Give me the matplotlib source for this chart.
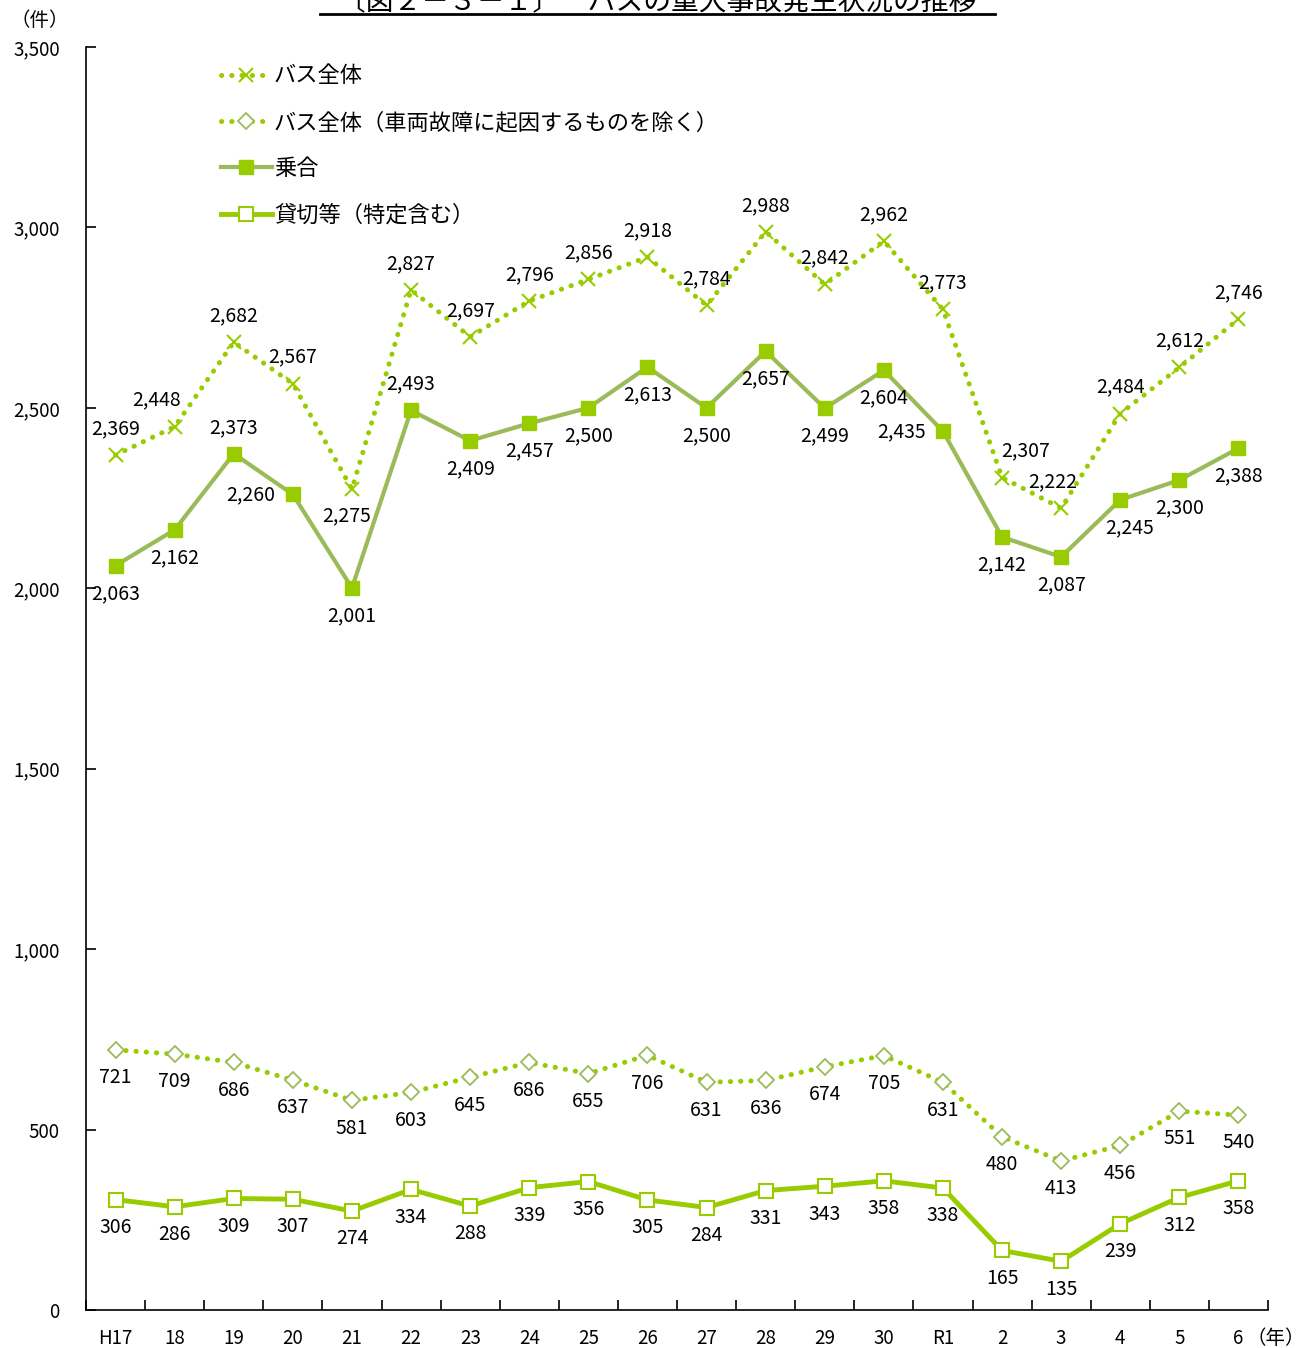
import matplotlib
matplotlib.use("Agg")
import matplotlib.pyplot as plt
from matplotlib.lines import Line2D

plt.rcParams['font.family'] = ['Noto Sans CJK JP', 'DejaVu Sans']

years = ["H17", "18", "19", "20", "21", "22", "23", "24", "25", "26",
         "27", "28", "29", "30", "R1", "2", "3", "4", "5", "6"]
bus_all = [2369, 2448, 2682, 2567, 2275, 2827, 2697, 2796, 2856, 2918,
           2784, 2988, 2842, 2962, 2773, 2307, 2222, 2484, 2612, 2746]
bus_excl = [721, 709, 686, 637, 581, 603, 645, 686, 655, 706,
            631, 636, 674, 705, 631, 480, 413, 456, 551, 540]
noriai = [2063, 2162, 2373, 2260, 2001, 2493, 2409, 2457, 2500, 2613,
          2500, 2657, 2499, 2604, 2435, 2142, 2087, 2245, 2300, 2388]
kashikiri = [306, 286, 309, 307, 274, 334, 288, 339, 356, 305,
             284, 331, 343, 358, 338, 165, 135, 239, 312, 358]

GREEN = '#99CC00'
OLIVE = '#9BBB59'

fig = plt.figure(figsize=(13.04, 13.48), dpi=100)
ax = fig.add_axes([86 / 1304, 1 - 1310 / 1348, (1268 - 86) / 1304, (1310 - 47) / 1348])

x = list(range(len(years)))
dot = (0, (0.05, 2.0))
ax.plot(x, bus_all, color=GREEN, lw=3.6, ls=dot, dash_capstyle='round',
        marker='x', ms=10, mew=1.5, mec=GREEN, label='バス全体')
ax.plot(x, bus_excl, color=GREEN, lw=3.6, ls=dot, dash_capstyle='round',
        marker='D', ms=8, mew=1.3, mec=OLIVE, mfc='white',
        label='バス全体（車両故障に起因するものを除く）')
ax.plot(x, noriai, color=OLIVE, lw=3, marker='s', ms=10, mfc=GREEN, mec=GREEN,
        label='乗合')
ax.plot(x, kashikiri, color=GREEN, lw=3.5, marker='s', ms=10, mfc='white',
        mec=GREEN, mew=1.5, label='貸切等（特定含む）')

fs = 14
# label offsets in points (dx, dy)
off_all = {1: (-13, 19), 4: (-4, -19), 15: (17, 19), 16: (-6, 19)}
off_nor = {2: (0, 19), 3: (-30, 0), 5: (0, 19), 14: (-30, 0), 17: (7, -20)}
for i in x:
    dx, dy = off_all.get(i, (0, 19))
    ax.annotate(f"{bus_all[i]:,}", (i, bus_all[i]), xytext=(dx, dy),
                textcoords='offset points', ha='center', va='center', fontsize=fs)
    dx, dy = off_nor.get(i, (0, -20))
    ax.annotate(f"{noriai[i]:,}", (i, noriai[i]), xytext=(dx, dy),
                textcoords='offset points', ha='center', va='center', fontsize=fs)
    ax.annotate(f"{bus_excl[i]:,}", (i, bus_excl[i]), xytext=(0, -20),
                textcoords='offset points', ha='center', va='center', fontsize=fs)
    ax.annotate(f"{kashikiri[i]:,}", (i, kashikiri[i]), xytext=(0, -20),
                textcoords='offset points', ha='center', va='center', fontsize=fs)

ax.set_xlim(-0.5, len(years) - 0.5)
ax.set_ylim(0, 3500)
ax.set_yticks(range(0, 3501, 500))
ax.set_yticklabels([f"{v:,}" for v in range(0, 3501, 500)], fontsize=13.5)
ax.set_xticks(x)
ax.set_xticklabels(years, fontsize=13.5)
ax.set_xticks([i - 0.5 for i in range(len(years) + 1)], minor=True)
ax.tick_params(axis='x', which='major', length=0, pad=13)
ax.tick_params(axis='x', which='minor', direction='in', length=7, width=1.2)
ax.tick_params(axis='y', direction='in', length=7, width=1.2, pad=19)
for s in ['top', 'right']:
    ax.spines[s].set_visible(False)
for s in ['left', 'bottom']:
    ax.spines[s].set_linewidth(1.2)

ax.legend(loc='upper left', bbox_to_anchor=(0.097, 1.002), frameon=False,
          fontsize=16, handlelength=2.3, labelspacing=1.05, handletextpad=0.1)

fig.text(40 / 1304, 1 - 20 / 1348, '（件）', ha='center', va='center', fontsize=14)
fig.text(1276 / 1304, 1 - 1338 / 1348, '（年）', ha='center', va='center', fontsize=14)

fig.text(657 / 1304, 1 - 2 / 1348, '〔図２－３－１〕　バスの重大事故発生状況の推移',
         ha='center', va='center', fontsize=20)
fig.add_artist(Line2D([320 / 1304, 995 / 1304], [1 - 14 / 1348, 1 - 14 / 1348],
                      color='black', lw=2))

fig.savefig('out.png', dpi=100)
